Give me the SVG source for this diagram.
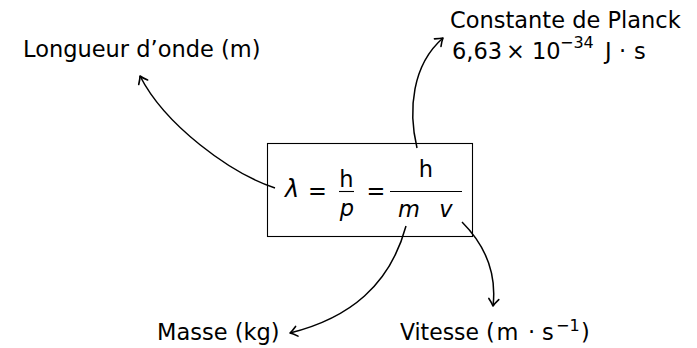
<svg xmlns="http://www.w3.org/2000/svg" width="697" height="348" viewBox="0 0 697 348">
<style>
text{font-family:"DejaVu Sans",sans-serif;font-size:22.5px;fill:#000}
.it{font-style:italic}
.sup{font-size:16px}
.c{text-anchor:middle}
.conn{fill:none;stroke:#000;stroke-width:1.5}
.bar{stroke:#000;stroke-width:1.1}
</style>
<defs>
<marker id="arr" markerUnits="userSpaceOnUse" markerWidth="14" markerHeight="14" viewBox="-9 -7 11 14" refX="0" refY="0" orient="auto">
<path d="M-7,-5 Q-2.5,-1.2 0,0 Q-2.5,1.2 -7,5" fill="none" stroke="#000" stroke-width="1.6" stroke-linecap="round" stroke-linejoin="round"/>
</marker>
</defs>
<g id="equation">
<rect x="267.5" y="143.5" width="205" height="93" fill="#fff" stroke="#000" stroke-width="1.1"/>
<text class="it" x="285" y="197" style="font-size:24px">λ</text>
<text class="c" x="317.5" y="199">=</text>
<text class="c" x="346.5" y="187">h</text>
<line class="bar" x1="339" y1="191.5" x2="354" y2="191.5"/>
<text class="it c" x="347" y="216">p</text>
<text class="c" x="376" y="199">=</text>
<text class="c" x="426" y="177">h</text>
<line class="bar" x1="390" y1="191.5" x2="462" y2="191.5"/>
<text class="it c" x="409" y="217">m</text>
<text class="it c" x="446" y="217">v</text>
</g>
<g id="longueur">
<text x="23" y="57">Longueur d’onde (m)</text>
</g>
<g id="planck">
<text x="450" y="28">Constante de Planck</text>
<text x="452" y="59">6,63<tspan x="506">×</tspan><tspan x="532">10</tspan><tspan class="sup" x="560" y="48">−34</tspan><tspan x="605" y="59">J</tspan><tspan x="619">·</tspan><tspan x="634">s</tspan></text>
</g>
<g id="masse">
<text x="157" y="340">Masse (kg)</text>
</g>
<g id="vitesse">
<text x="400" y="340"><tspan textLength="79" lengthAdjust="spacingAndGlyphs">Vitesse</tspan><tspan x="486">(</tspan><tspan x="496.5">m</tspan><tspan x="528">·</tspan><tspan x="542">s</tspan><tspan class="sup" x="556" y="331">−1</tspan><tspan x="581" y="340">)</tspan></text>
</g>
<g id="connectors">
<path class="conn" d="M275,188 C230,173 165,125 140,76" marker-end="url(#arr)"/>
<path class="conn" d="M417,148 C408,110 412,65 443,38" marker-end="url(#arr)"/>
<path class="conn" d="M406,226 C390,285 350,318 290,333" marker-end="url(#arr)"/>
<path class="conn" d="M462,222 C485,245 497,272 493,306" marker-end="url(#arr)"/>
</g>
</svg>
